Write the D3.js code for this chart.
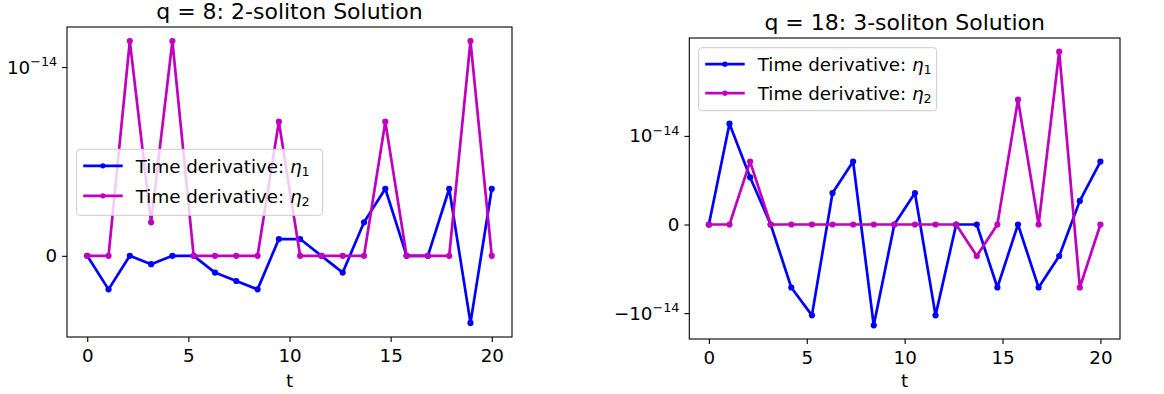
<!DOCTYPE html>
<html>
<head>
<meta charset="utf-8">
<script src="https://cdn.jsdelivr.net/npm/d3@7"></script>
<style>
  body { margin: 0; background: #fff; }
  svg { display: block; font-family: "DejaVu Sans", sans-serif; }
</style>
</head>
<body>
<div id="chart"></div>
<script>
// time grid, 20 samples on [0, 20]
const tValues = [0, 1.0526, 2.1053, 3.1579, 4.2105, 5.2632, 6.3158, 7.3684, 8.4211, 9.4737,
                 10.5263, 11.5789, 12.6316, 13.6842, 14.7368, 15.7895, 16.8421, 17.8947, 18.9474, 20];

// q = 8 : 2-soliton
const eta1Q8 = [0, -1.776e-15, 0, -4.44e-16, 0, 0, -8.88e-16, -1.332e-15, -1.776e-15, 8.88e-16,
                8.88e-16, 0, -8.88e-16, 1.776e-15, 3.553e-15, 0, 0, 3.553e-15, -3.553e-15, 3.553e-15];
const eta2Q8 = [0, 0, 1.421e-14, 1.776e-15, 1.421e-14, 0, 0, 0, 0, 7.105e-15,
                0, 0, 0, 0, 7.105e-15, 0, 0, 0, 1.421e-14, 0];

// q = 18 : 3-soliton
const eta1Q18 = [0, 1.421e-14, 5.329e-15, 0, -7.105e-15, -1.066e-14, 3.553e-15, 7.105e-15, -1.421e-14, 0,
                 3.553e-15, -1.066e-14, 0, 0, -7.105e-15, 0, -7.105e-15, -3.553e-15, 2.665e-15, 7.105e-15];
const eta2Q18 = [0, 0, 7.105e-15, 0, 0, 0, 0, 0, 0, 0,
                 0, 0, 0, -3.553e-15, 0, 2.842e-14, 0, 1.137e-13, -7.105e-15, 0];

const xTicks = [0, 5, 10, 15, 20];
const yTicks = [-1e-14, 0, 1e-14];
const seriesNames = ['Time derivative: ', 'Time derivative: '];

const COLORS = { eta1: '#0000ff', eta2: '#bf00bf', text: '#000' };
const FONT = 18.3;
const TITLE_FONT = 22;
const LINTHRESH = 1e-14;

// matplotlib-style symlog transform (base 10, linscale 1)
const linscaleAdj = 1 / (1 - 1 / 10);
const symlog = function(v) {
    const a = Math.abs(v) / LINTHRESH;
    if (a <= 1) return Math.sign(v) * a * linscaleAdj;
    return Math.sign(v) * (linscaleAdj + Math.log10(a));
};

const svg = d3.select('#chart').append('svg')
    .attr('width', 1164)
    .attr('height', 394);

const panels = [
    { title: 'q = 8: 2-soliton Solution', eta1: eta1Q8, eta2: eta2Q8,
      box: { left: 67, right: 512, top: 27, bottom: 337 },
      legend: { x: 76.7, y: 149.3, w: 246, h: 66, gap: 30 } },
    { title: 'q = 18: 3-soliton Solution', eta1: eta1Q18, eta2: eta2Q18,
      box: { left: 689.3, right: 1120, top: 38, bottom: 339 },
      legend: { x: 698.7, y: 47.7, w: 238, h: 63, gap: 29 } }
];

const drawPanel = function(p) {
    const b = p.box;
    const g = svg.append('g');

    const x = d3.scaleLinear()
        .domain([-1, 21])
        .range([b.left, b.right]);

    const tv = p.eta1.concat(p.eta2).map(symlog);
    const lo = d3.min(tv), hi = d3.max(tv);
    const pad = (hi - lo) * 0.05;
    const yT = d3.scaleLinear()
        .domain([lo - pad, hi + pad])
        .range([b.bottom, b.top]);
    const y = v => yT(symlog(v));

    // x axis
    const xAxis = g.append('g')
        .attr('transform', `translate(0,${b.bottom})`)
        .call(d3.axisBottom(x).tickValues(xTicks).tickSize(4.9).tickPadding(7.5).tickFormat(d3.format('d')));
    xAxis.select('.domain').remove();
    xAxis.selectAll('line').attr('stroke', '#000').attr('stroke-width', 1.1);
    xAxis.selectAll('text')
        .attr('font-size', FONT)
        .attr('font-family', 'DejaVu Sans')
        .attr('fill', COLORS.text);

    // y axis (ticks on transformed scale, labels as powers of ten)
    const yAxis = g.append('g')
        .attr('transform', `translate(${b.left},0)`)
        .call(d3.axisLeft(yT).tickValues(yTicks.map(symlog)).tickSize(4.9).tickFormat(''));
    yAxis.select('.domain').remove();
    yAxis.selectAll('line').attr('stroke', '#000').attr('stroke-width', 1.1);

    yTicks.forEach(function(v) {
        const yy = y(v);
        if (yy < b.top || yy > b.bottom) return;
        const txt = g.append('text')
            .attr('x', b.left - 9.8)
            .attr('y', yy + 6.6)
            .attr('text-anchor', 'end')
            .attr('font-size', FONT)
            .attr('fill', COLORS.text);
        if (v === 0) {
            txt.text('0');
        } else {
            txt.append('tspan').text(v < 0 ? '\u221210' : '10');
            txt.append('tspan')
                .attr('dy', -7.5)
                .attr('font-size', FONT * 0.7)
                .text('\u221214');
        }
    });

    // frame
    g.append('rect')
        .attr('x', b.left)
        .attr('y', b.top)
        .attr('width', b.right - b.left)
        .attr('height', b.bottom - b.top)
        .attr('fill', 'none')
        .attr('stroke', '#000')
        .attr('stroke-width', 1.1);

    // lines
    const line = d3.line()
        .x((d, i) => x(tValues[i]))
        .y(d => y(d));

    const plotSeries = [
        { data: p.eta1, color: COLORS.eta1 },
        { data: p.eta2, color: COLORS.eta2 }
    ];

    const marks = g.append('g');
    plotSeries.forEach(function(s) {
        marks.append('path')
            .datum(s.data)
            .attr('d', line)
            .attr('fill', 'none')
            .attr('stroke', s.color)
            .attr('stroke-width', 2.7)
            .attr('stroke-linejoin', 'round');
        marks.selectAll(null)
            .data(s.data)
            .enter()
            .append('circle')
            .attr('cx', (d, i) => x(tValues[i]))
            .attr('cy', d => y(d))
            .attr('r', 3.1)
            .attr('fill', s.color);
    });

    // title
    g.append('text')
        .attr('x', (b.left + b.right) / 2)
        .attr('y', b.top - 8.3)
        .attr('text-anchor', 'middle')
        .attr('font-size', TITLE_FONT)
        .attr('fill', COLORS.text)
        .text(p.title);

    // x label
    g.append('text')
        .attr('x', (b.left + b.right) / 2)
        .attr('y', 387)
        .attr('text-anchor', 'middle')
        .attr('font-size', FONT)
        .attr('fill', COLORS.text)
        .text('t');

    // legend
    const L = p.legend;
    const lg = g.append('g').attr('transform', `translate(${L.x},${L.y})`);
    lg.append('rect')
        .attr('width', L.w)
        .attr('height', L.h)
        .attr('rx', 3)
        .attr('fill', 'rgba(255,255,255,0.8)')
        .attr('stroke', '#cccccc')
        .attr('stroke-width', 1);

    plotSeries.forEach(function(s, i) {
        const yy = 16.5 + i * L.gap;
        lg.append('line')
            .attr('x1', 6.5).attr('x2', 46)
            .attr('y1', yy).attr('y2', yy)
            .attr('stroke', s.color)
            .attr('stroke-width', 2.7);
        lg.append('circle')
            .attr('cx', 26.2).attr('cy', yy)
            .attr('r', 2.6)
            .attr('fill', s.color);
        const t = lg.append('text')
            .attr('x', 59)
            .attr('y', yy + 6.8)
            .attr('font-size', FONT)
            .attr('fill', COLORS.text);
        t.append('tspan').text(seriesNames[i]);
        t.append('tspan').attr('font-style', 'italic').text('\u03b7');
        t.append('tspan')
            .attr('dy', 3.5)
            .attr('font-size', FONT * 0.7)
            .text(String(i + 1));
    });
};

panels.forEach(drawPanel);
</script>
</body>
</html>
